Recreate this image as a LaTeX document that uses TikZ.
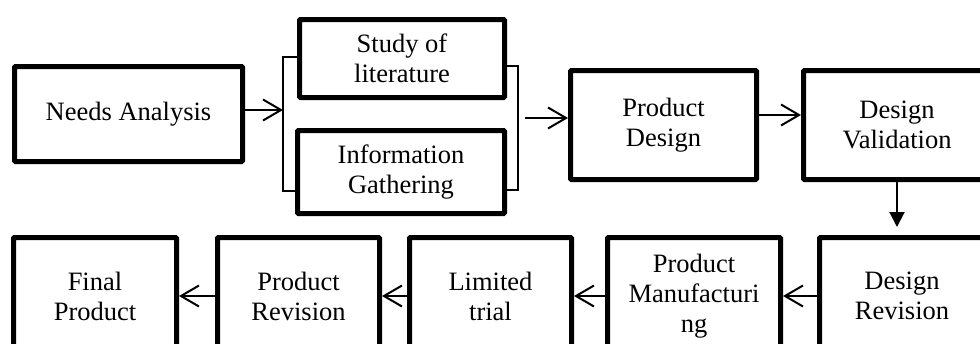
\documentclass[tikz,border=0pt]{standalone}
\usepackage{fontspec}
\setmainfont{Liberation Serif}
\usetikzlibrary{arrows.meta}
\begin{document}
\begin{tikzpicture}[x=1pt,y=-1pt,
  box/.style={draw, line width=5pt, rounded corners=1pt, align=center, inner sep=0pt,
    font=\fontsize{26.5}{30}\selectfont},
  arr/.style={line width=2pt, -{Straight Barb[length=18pt,width=21pt]}},
  darr/.style={line width=2pt, -{Triangle[length=15pt,width=15pt]}},
  brk/.style={line width=1.5pt}]
\useasboundingbox (0,0) rectangle (980,343);
\clip (0,0) rectangle (980,343);
% top row
\node[box, minimum width=228pt, minimum height=95pt] (na) at (128.5,114) {Needs Analysis};
\node[box, minimum width=205pt, minimum height=78pt] (sl) at (402,58.5) {Study of\\literature};
\node[box, minimum width=207pt, minimum height=83pt] (ig) at (401,172) {Information\\Gathering};
\node[box, minimum width=186pt, minimum height=109pt] (pd) at (663.5,125) {Product\\Design};
\node[box, minimum width=187pt, minimum height=109pt] (dv) at (897,125) {Design\\Validation};
% bottom row
\node[box, minimum width=163pt, minimum height=117pt] (fp) at (95,296) {Final\\Product};
\node[box, minimum width=162pt, minimum height=117pt] (pr) at (298.5,296) {Product\\Revision};
\node[box, minimum width=162pt, minimum height=117pt] (lt) at (490.5,296) {Limited\\trial};
\node[box, minimum width=173pt, minimum height=117pt] (pm) at (694,296) {Product\\Manufacturi\\ng};
\node[box, minimum width=165pt, minimum height=117pt] (dr) at (902,296) {Design\\Revision};
% brackets
\draw[brk] (sl.west |- 0,57) -- (283,57) -- (283,191) -- (ig.west |- 0,191);
\draw[brk] (sl.east |- 0,66) -- (518,66) -- (518,190) -- (ig.east |- 0,190);
\coordinate (lb) at (283,110);
\coordinate (rb) at (525,118);
% connectors
\draw[arr] (na.east |- lb) -- (lb);
\draw[arr] (rb) -- (pd.west |- rb);
\draw[arr] ([yshift=10pt]pd.east) -- ([yshift=10pt]dv.west);
\path (dr.north -| dv.south) ++(0,-8) coordinate (dt);
\draw[darr] (dv.south) -- (dt);
\draw[arr] (dr.west) -- (pm.east);
\draw[arr] (pm.west) -- (lt.east);
\draw[arr] (lt.west) -- (pr.east);
\draw[arr] (pr.west) -- (fp.east);
\end{tikzpicture}
\end{document}
